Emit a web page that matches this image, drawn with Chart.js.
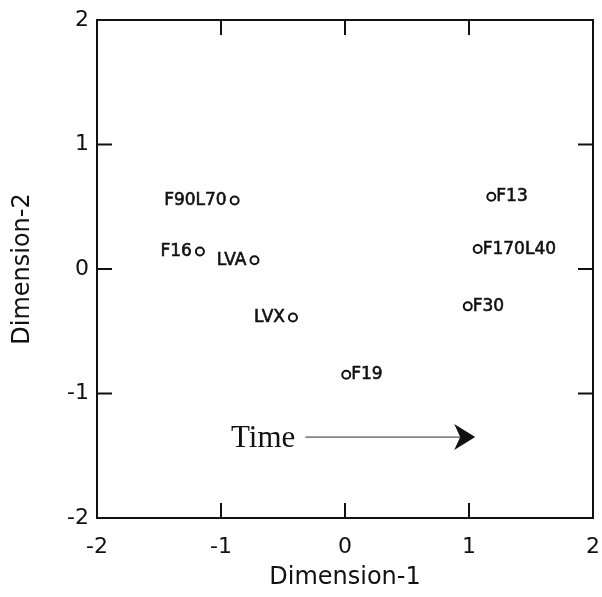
<!DOCTYPE html>
<html>
<head>
<meta charset="utf-8">
<script src="https://cdn.jsdelivr.net/npm/chart.js@4"></script>
<style>
  html, body { margin: 0; padding: 0; background: #fff; }
</style>
</head>
<body>
<canvas id="myChart" width="602" height="597"></canvas>
<script>
// datos
const puntos = ["F90L70", "F16", "LVA", "LVX", "F19", "F30", "F170L40", "F13"];
const dim1 = [-0.89, -1.17, -0.73, -0.42, 0.01, 0.99, 1.07, 1.18];
const dim2 = [0.55, 0.14, 0.07, -0.39, -0.85, -0.30, 0.16, 0.58];
const ladoEtiqueta = ["left", "left", "left", "left", "right", "right", "right", "right"];

const marcasInternas = [-1, 0, 1];
const flechaX = [-0.32, 1.05];
const flechaY = -1.35;
const textoFlecha = "Time";

const negro = "#111";

// marco, marcas hacia dentro, etiquetas y flecha
const extras = {
    id: "extras",
    afterDatasetsDraw(chart) {
        const { ctx, chartArea: a } = chart;
        const sx = chart.scales.x;
        const sy = chart.scales.y;
        ctx.save();
        ctx.strokeStyle = negro;
        ctx.lineWidth = 2;
        ctx.strokeRect(a.left, a.top, a.right - a.left, a.bottom - a.top);

        const largo = 15;
        ctx.beginPath();
        marcasInternas.forEach(v => {
            const px = sx.getPixelForValue(v);
            ctx.moveTo(px, a.top); ctx.lineTo(px, a.top + largo);
            ctx.moveTo(px, a.bottom); ctx.lineTo(px, a.bottom - largo);
            const py = sy.getPixelForValue(v);
            ctx.moveTo(a.left, py); ctx.lineTo(a.left + largo, py);
            ctx.moveTo(a.right, py); ctx.lineTo(a.right - largo, py);
        });
        ctx.stroke();

        // nombres de los puntos
        ctx.fillStyle = negro;
        ctx.strokeStyle = negro;
        ctx.lineWidth = 0.6;
        ctx.font = "17px 'DejaVu Sans'";
        ctx.textBaseline = "middle";
        puntos.forEach((nombre, i) => {
            const px = sx.getPixelForValue(dim1[i]);
            const py = sy.getPixelForValue(dim2[i]);
            let tx = px + 5;
            ctx.textAlign = "left";
            if (ladoEtiqueta[i] === "left") {
                ctx.textAlign = "right";
                tx = px - 8;
            }
            ctx.fillText(nombre, tx, py);
            ctx.strokeText(nombre, tx, py);
        });

        // flecha del tiempo
        const x0 = sx.getPixelForValue(flechaX[0]);
        const x1 = sx.getPixelForValue(flechaX[1]);
        const y0 = sy.getPixelForValue(flechaY);
        ctx.strokeStyle = "#555";
        ctx.lineWidth = 1.2;
        ctx.beginPath();
        ctx.moveTo(x0, y0);
        ctx.lineTo(x1 - 15, y0);
        ctx.stroke();
        ctx.fillStyle = negro;
        ctx.beginPath();
        ctx.moveTo(x1, y0);
        ctx.lineTo(x1 - 21, y0 - 13);
        ctx.lineTo(x1 - 15, y0);
        ctx.lineTo(x1 - 21, y0 + 13);
        ctx.closePath();
        ctx.fill();

        ctx.font = "31px 'Liberation Serif'";
        ctx.textAlign = "right";
        ctx.textBaseline = "alphabetic";
        ctx.fillText(textoFlecha, x0 - 10, y0 + 10);
        ctx.restore();
    }
};

const datos = dim1.map((v, i) => ({ x: v, y: dim2[i] }));

const config = {
    type: "scatter",
    data: {
        datasets: [{
            label: "MDS",
            data: datos,
            pointStyle: "circle",
            pointRadius: 4,
            pointHoverRadius: 4,
            borderColor: negro,
            borderWidth: 2,
            backgroundColor: "rgba(255,255,255,0)"
        }]
    },
    options: {
        responsive: false,
        animation: false,
        devicePixelRatio: 1,
        layout: { padding: { top: 20, right: 0, bottom: 0, left: 0 } },
        plugins: { legend: { display: false }, tooltip: { enabled: false } },
        scales: {
            x: {
                type: "linear",
                min: -2, max: 2,
                grid: { display: false },
                border: { display: false },
                ticks: { stepSize: 1, padding: 8, color: negro, font: { family: "DejaVu Sans", size: 22 } },
                title: { display: true, text: "Dimension-1", color: negro, font: { family: "DejaVu Sans", size: 24 }, padding: { top: 0, bottom: 5 } },
                afterFit(scale) {
                    scale.height = 79;
                    scale.paddingLeft = 0;
                    scale.paddingRight = 9;
                }
            },
            y: {
                type: "linear",
                min: -2, max: 2,
                grid: { display: false },
                border: { display: false },
                ticks: { stepSize: 1, padding: 0, color: negro, font: { family: "DejaVu Sans", size: 22 } },
                title: { display: true, text: "Dimension-2", color: negro, font: { family: "DejaVu Sans", size: 24 }, padding: { top: 8, bottom: 0 } },
                afterFit(scale) { scale.width = 97; }
            }
        }
    },
    plugins: [extras]
};

new Chart(document.getElementById("myChart"), config);
</script>
</body>
</html>
